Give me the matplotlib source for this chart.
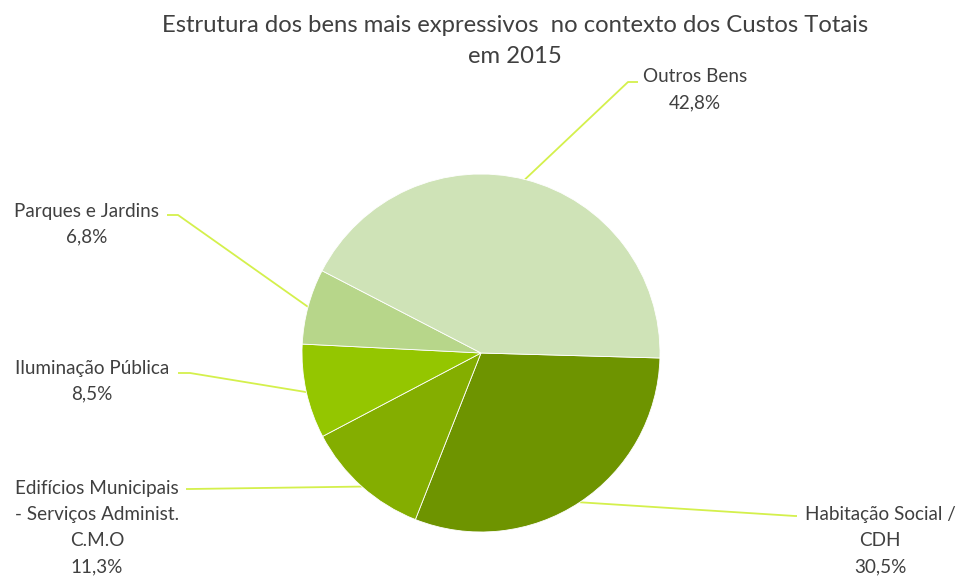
import matplotlib
matplotlib.use("Agg")
import matplotlib.pyplot as plt
import numpy as np

labels = ["Habitação Social /\nCDH", "Edifícios Municipais\n- Serviços Administ.\nC.M.O",
          "Iluminação Pública", "Parques e Jardins", "Outros Bens"]
values = [30.5, 11.3, 8.5, 6.8, 42.8]
pcts = ["30,5%", "11,3%", "8,5%", "6,8%", "42,8%"]
colors = ["#6E9400", "#84AE00", "#94C600", "#B7D68A", "#CFE3B7"]
title_lines = ["Estrutura dos bens mais expressivos  no contexto dos Custos Totais", "em 2015"]

W, H = 958, 577
fig = plt.figure(figsize=(W / 100, H / 100), dpi=100)
ax = fig.add_axes([0, 0, 1, 1])

cx, cy, r = 481, H - 353, 179
wedges, _ = ax.pie(values, colors=colors, startangle=-1.6, counterclock=False,
                   center=(cx, cy), radius=r, frame=True,
                   wedgeprops=dict(edgecolor="white", linewidth=0.6))
ax.set_xlim(0, W)
ax.set_ylim(0, H)
ax.set_aspect("equal")
ax.axis("off")

font = "Lato"
tc = "#404040"
lc = "#D4F04C"

for k, (line, by) in enumerate(zip(title_lines, [32, 63])):
    ax.text(515, H - by, line, ha="center", va="baseline", fontsize=17.2,
            color=tc, family=font)

# (text x center, first baseline y, line step, elbow, horizontal end)
ann = [
    (880, 520, 26, (797, 516), (795, 516)),
    (97, 494, 26, (186, 489), (190, 489)),
    (92, 374, 25.5, (178, 373), (190, 373)),
    (87, 217, 25.5, (167, 215), (178, 215)),
    (695, 82, 26, (638, 82), (628, 82)),
]

theta = -1.6
for i, v in enumerate(values):
    t1 = theta - v * 3.6
    mid = np.deg2rad((theta + t1) / 2)
    theta = t1
    sx, sy = cx + r * np.cos(mid), cy + r * np.sin(mid)
    tx, by, step, p1, p2 = ann[i]
    ax.plot([p1[0], p2[0], sx], [H - p1[1], H - p2[1], sy], color=lc, lw=1.3,
            solid_capstyle="butt", zorder=0)
    lines = labels[i].split("\n") + [pcts[i]]
    for j, ln in enumerate(lines):
        ax.text(tx, H - (by + j * step), ln, ha="center", va="baseline",
                fontsize=13.6, color=tc, family=font)

fig.savefig("out.png", dpi=100)
